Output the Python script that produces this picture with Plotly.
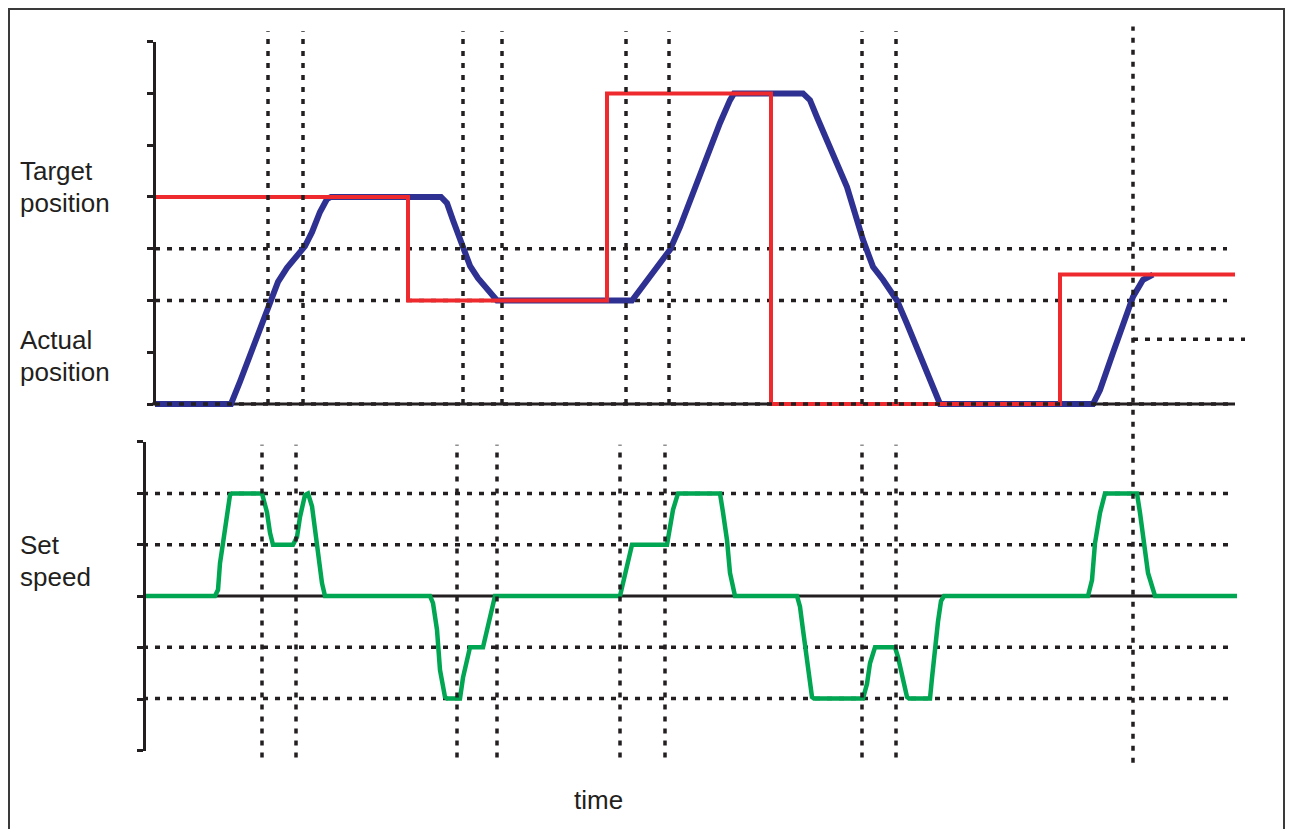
import plotly.graph_objects as go

# time axis (arbitrary units), position levels, speed levels
tijd_actual = [0, 7.6, 8.5, 9.8, 11.2, 11.8, 12.3, 13.2, 14.5, 15.0, 15.7, 16.5, 17.2, 17.6,
               28.6, 29.2, 29.8, 30.8, 31.5, 32.3, 33.3, 34.2,
               47.7, 48.5, 49.8, 51.5, 52.5, 53.8, 55.2, 56.5, 57.5, 57.9,
               64.8, 65.5, 66.2, 67.5, 69.2, 70.8, 71.8, 72.8, 74.2, 75.2, 76.5, 77.8, 78.5,
               93.8, 94.5, 95.8, 97.2, 97.8, 98.8, 99.8]
pos_actual = [0, 0, 0.43, 1.10, 1.78, 2.16, 2.36, 2.63, 2.92, 3.05, 3.32, 3.71, 3.96, 4,
              4, 3.88, 3.55, 3.03, 2.67, 2.43, 2.22, 2,
              2, 2.2, 2.53, 2.98, 3.42, 4.08, 4.71, 5.43, 5.87, 6,
              6, 5.87, 5.54, 4.97, 4.19, 3.17, 2.65, 2.40, 2.0, 1.55, 0.95, 0.35, 0,
              0, 0.27, 0.99, 1.76, 2.07, 2.40, 2.5]

tijd_target = [0, 25.3, 45.2, 61.6, 90.5, 108]
pos_target = [4, 2, 6, 0, 2.5, 2.5]

tijd_speed = [-1.2, 6.0, 6.3, 6.5, 6.8, 7.2, 7.5, 7.7, 10.7, 11.2, 11.5, 11.8, 13.8, 14.2, 14.5, 15.0, 15.3,
              15.7, 16.0, 16.3, 16.7, 17.0,
              27.5, 27.8, 28.2, 28.5, 29.0, 29.2, 30.5, 30.8, 31.2, 31.5, 32.8, 33.2, 33.5, 34.0,
              46.5, 46.8, 47.2, 47.7, 51.2, 51.5, 51.8, 52.3, 56.5, 56.8, 57.2, 57.5, 58.0,
              64.2, 64.5, 64.8, 65.2, 65.7, 65.9, 70.8, 71.2, 71.5, 72.0, 74.0, 74.3, 74.7, 75.2, 75.4,
              77.5, 77.7, 78.0, 78.3, 78.6, 78.9,
              93.3, 93.7, 94.0, 94.5, 95.0, 98.2, 98.5, 99.0, 99.3, 100.0, 108.2]
speed = [0, 0, 0.12, 0.64, 1.03, 1.62, 1.97, 2, 2, 1.63, 1.23, 1, 1, 1.15, 1.54, 1.97, 2,
         1.75, 1.29, 0.70, 0.25, 0,
         0, -0.14, -0.66, -1.44, -1.97, -2, -2, -1.59, -1.19, -1, -1, -0.66, -0.33, 0,
         0, 0.25, 0.64, 1, 1, 1.29, 1.68, 2, 2, 1.63, 1.09, 0.45, 0,
         0, -0.21, -0.66, -1.31, -1.97, -2, -2, -1.71, -1.31, -1, -1, -1.19, -1.5, -1.97, -2,
         -2, -1.6, -1, -0.5, -0.1, 0,
         0, 0.31, 1.03, 1.62, 2, 2, 1.62, 0.96, 0.45, 0, 0]

# event times (dotted verticals)
events_top = [11.3, 14.8, 30.8, 34.7, 47.1, 51.4, 70.7, 74.1]
events_bottom = [10.7, 14.1, 30.2, 34.2, 46.5, 51.0, 70.7, 74.1]
event_last = 97.8
levels_top = [3, 2]
half_level = 1.25
levels_speed = [2, 1, -1, -2]
ticks_pos = [0, 1, 2, 3, 4, 5, 6, 7]
ticks_speed = [-3, -2, -1, 0, 1, 2, 3]

zwart = '#231f20'
rood = '#ee2a2e'
blauw = '#2e3192'
groen = '#00a651'
dots = dict(color=zwart, width=3.5, dash='5px,7px')

fig = go.Figure()
fig.add_trace(go.Scatter(x=tijd_actual, y=pos_actual, mode='lines', yaxis='y',
                         line=dict(color=blauw, width=6)))
fig.add_trace(go.Scatter(x=tijd_target, y=pos_target, mode='lines', yaxis='y',
                         line=dict(color=rood, width=4, shape='hv')))
fig.add_trace(go.Scatter(x=tijd_speed, y=speed, mode='lines', yaxis='y2',
                         line=dict(color=groen, width=4.5)))
# dummy traces so the bracket axes are drawn
fig.add_trace(go.Scatter(x=[None], y=[None], yaxis='y3'))
fig.add_trace(go.Scatter(x=[None], y=[None], yaxis='y4'))

shapes = []
# solid zero lines
shapes.append(dict(type='line', xref='x', yref='y', x0=-0.3, x1=108, y0=0, y1=0,
                   line=dict(color=zwart, width=3), layer='below'))
shapes.append(dict(type='line', xref='x', yref='y2', x0=-1.2, x1=108, y0=0, y1=0,
                   line=dict(color=zwart, width=3), layer='below'))
# horizontal dotted lines
for lv in levels_top:
    shapes.append(dict(type='line', xref='x', yref='y', x0=0, x1=107.2, y0=lv, y1=lv,
                       line=dots, layer='below'))
shapes.append(dict(type='line', xref='x', yref='y', x0=event_last, x1=109, y0=half_level, y1=half_level,
                   line=dots, layer='below'))
shapes.append(dict(type='line', xref='x', yref='y', x0=0, x1=108, y0=0, y1=0,
                   line=dots, layer='above'))
for lv in levels_speed:
    shapes.append(dict(type='line', xref='x', yref='y2', x0=-1.2, x1=107.3, y0=lv, y1=lv,
                       line=dots, layer='below'))
# vertical dotted lines
for t in events_top:
    shapes.append(dict(type='line', xref='x', yref='y', x0=t, x1=t, y0=0, y1=7.2,
                       line=dots, layer='above'))
for t in events_bottom:
    shapes.append(dict(type='line', xref='x', yref='y2', x0=t, x1=t, y0=-3.15, y1=2.95,
                       line=dots, layer='above'))
shapes.append(dict(type='line', xref='x', yref='y2', x0=event_last, x1=event_last, y0=-3.25, y1=11.1,
                   line=dots, layer='above'))
# frame
shapes.append(dict(type='rect', xref='paper', yref='paper', x0=9/1290, x1=1284/1290, y0=-0.05, y1=1-9/829,
                   line=dict(color='#3a3a3a', width=2)))

def label(tekst, x, y):
    return dict(text=tekst, xref='paper', yref='paper', x=x/1290, y=1-y/829, showarrow=False,
                xanchor='left', yanchor='middle',
                font=dict(family='Liberation Sans, Arial', size=26, color=zwart))

annotations = [label('Target', 18, 171), label('position', 18, 203),
               label('Actual', 18, 340), label('position', 18, 372),
               label('Set', 18, 545), label('speed', 18, 577)]
annotations.append(dict(text='time', xref='paper', yref='paper', x=598/1290, y=1-800/829, showarrow=False,
                        xanchor='center', yanchor='middle',
                        font=dict(family='Liberation Sans, Arial', size=26, color=zwart)))

bracket = dict(showline=True, linewidth=3, linecolor=zwart, ticks='outside', ticklen=6, tickwidth=3,
               tickcolor=zwart, showticklabels=False, showgrid=False, zeroline=False, anchor='free')

fig.update_layout(
    width=1290, height=829, autosize=False,
    margin=dict(l=0, r=0, t=0, b=0),
    paper_bgcolor='white', plot_bgcolor='rgba(0,0,0,0)',
    showlegend=False,
    xaxis=dict(range=[-15.5, 113.5], domain=[0, 1], visible=False, fixedrange=True),
    yaxis=dict(range=[-8.211, 7.805], domain=[0, 1], visible=False, fixedrange=True),
    yaxis2=dict(range=[-4.542, 11.618], overlaying='y', visible=False, fixedrange=True),
    yaxis3=dict(range=[0, 7], domain=[1-404/829, 1-41.7/829], position=154/1290,
                tickvals=ticks_pos, **bracket),
    yaxis4=dict(range=[-3, 3], domain=[1-750.7/829, 1-441.7/829], position=144/1290,
                tickvals=ticks_speed, **bracket),
    shapes=shapes,
    annotations=annotations,
)

fig.write_html("out.html", config={'displayModeBar': False},
               post_script="document.body.style.margin='0';")
